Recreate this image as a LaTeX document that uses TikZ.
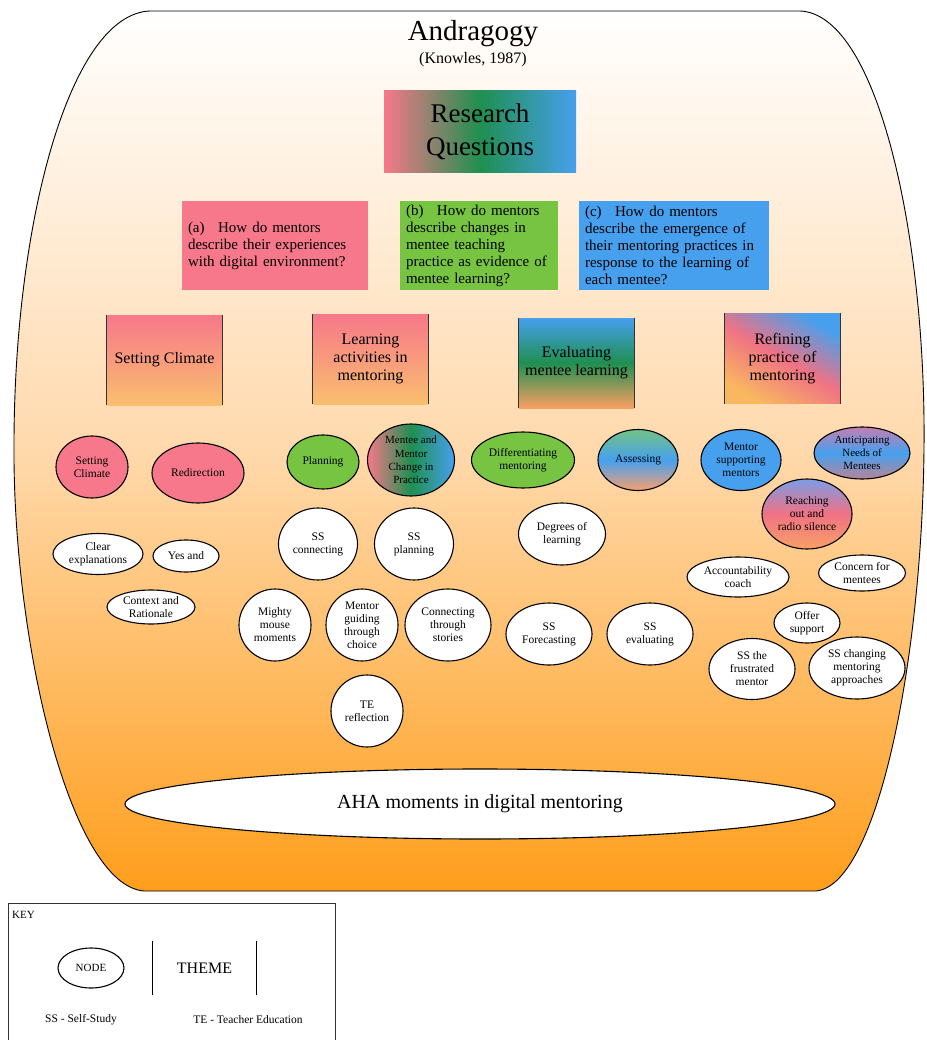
\documentclass[tikz,border=0pt]{standalone}
\usepackage{fontspec}
\setmainfont{Liberation Serif}
\usetikzlibrary{shapes.geometric}
\newcommand\fsz[2]{\fontsize{#1pt}{#2pt}\selectfont}
\definecolor{bkTop}{HTML}{FFFFFF}
\definecolor{bkMid}{HTML}{FFD9AC}
\definecolor{bkBot}{HTML}{FF9E1C}
\definecolor{qpink}{HTML}{F7788A}
\definecolor{qgreen}{HTML}{76C442}
\definecolor{qblue}{HTML}{46A0EE}
\definecolor{dgreen}{HTML}{1F8F50}
\definecolor{thOr}{HTML}{F9BE6E}
\definecolor{evOr}{HTML}{F9A062}
\definecolor{rfOr}{HTML}{F9B860}
\definecolor{rfPk}{HTML}{F07284}
\definecolor{rfBl}{HTML}{46A0EE}
\definecolor{asTop}{HTML}{72C284}
\definecolor{asBot}{HTML}{F6A070}
\definecolor{anTop}{HTML}{C47EB2}
\definecolor{anBot}{HTML}{B88498}
\definecolor{reTop}{HTML}{7C9CE6}
\definecolor{reBot}{HTML}{F8A066}
\definecolor{edge}{HTML}{333333}
\pgfdeclareverticalshading{refine}{100bp}{color(0bp)=(rfOr); color(25bp)=(rfOr); color(50bp)=(rfPk); color(75bp)=(rfBl); color(100bp)=(rfBl)}
\tikzset{
  el/.style 2 args={minimum width=#1, minimum height=#2},
  wn/.style={ellipse, draw=black, line width=1.1pt, fill=white, inner sep=0pt, align=center, font=\fsz{11.5}{13}},
  cn/.style={ellipse, draw=black, line width=1.1pt, inner sep=0pt, align=center, font=\fsz{11.5}{13}},
  qbox/.style={rectangle, inner xsep=6pt, inner ysep=2pt, align=left, minimum height=89, font=\fsz{15}{17}},
  theme/.style={rectangle, minimum width=115, minimum height=90, inner sep=0pt, align=center, font=\fsz{16}{18}},
  themeedge/.style={draw=edge, line width=1.2pt},
}
\begin{document}
\begin{tikzpicture}[x=1pt,y=-1pt]
\useasboundingbox (0,0) rectangle (926,1040);
\fill[white] (0,0) rectangle (926,1040);
% outer andragogy shape
\path[draw=black, line width=0.9pt, top color=bkTop, bottom color=bkBot, middle color=bkMid]
  (150,11) -- (800,11) .. controls (875,14) and (922,220) .. (924,420)
  .. controls (926,640) and (880,885) .. (816,891) -- (144,891)
  .. controls (70,885) and (12,640) .. (14,440)
  .. controls (15,220) and (70,14) .. (150,11) -- cycle;
\node[font=\fsz{29}{32}] (title) at (473,34) {Andragogy};
\node[font=\fsz{16}{18}] (knowles) at (473,60) {(Knowles, 1987)};
% research questions
\node[rectangle, minimum width=192, minimum height=82, inner sep=0pt, align=center, font=\fsz{27}{33},
  left color=qpink, right color=qblue, middle color=dgreen] (rq) at (480,132) {Research\\Questions};
\node[qbox, fill=qpink, text width=174, minimum width=186] (qa) at (275,245.5)
  {(a)\hspace{0.9em}How do mentors\\describe their experiences\\with digital environment?};
\node[qbox, fill=qgreen, text width=146, minimum width=158] (qb) at (479,245.5)
  {(b)\hspace{0.9em}How do mentors\\describe changes in\\mentee teaching\\practice as evidence of\\mentee learning?};
\node[qbox, fill=qblue, text width=178, minimum width=190] (qc) at (674,245.5)
  {(c)\hspace{0.9em}How do mentors\\describe the emergence of\\their mentoring practices in\\response to the learning of\\each mentee?};
% themes
\node[theme, top color=qpink, bottom color=thOr] (t1) at (164.5,360) {Setting Climate};
\node[theme, top color=qpink, bottom color=thOr] (t2) at (370.5,359) {Learning\\activities in\\mentoring};
\node[theme, top color=qblue, bottom color=evOr, middle color=dgreen] (t3) at (576.5,363) {Evaluating\\mentee learning};
\node[theme, shading=refine, shading angle=-30] (t4) at (782.5,358.5) {Refining\\practice of\\mentoring};
\foreach \t in {t1,t2,t3,t4}{
  \draw[themeedge] (\t.north west) -- (\t.south west);
  \draw[themeedge] (\t.north east) -- (\t.south east);
}
% coloured nodes
\node[cn, el={72}{62}, fill=qpink] (sc) at (92,467) {Setting\\Climate};
\node[cn, el={92}{60}, fill=qpink] (redir) at (198,473) {Redirection};
\node[cn, el={72}{54}, fill=qgreen] (plan) at (323,462) {Planning};
\node[cn, el={87}{72}, left color=qpink, right color=qblue, middle color=dgreen, font=\fsz{11}{13.3}] (mmc) at (411,460) {Mentee and\\Mentor\\Change in\\Practice};
\node[cn, el={103}{56}, fill=qgreen] (diff) at (523,460) {Differentiating\\mentoring};
\node[cn, el={80}{61}, top color=asTop, bottom color=asBot, middle color=qblue] (assess) at (638,460) {Assessing};
\node[cn, el={80}{61}, fill=qblue] (msm) at (741,460) {Mentor\\supporting\\mentors};
\node[cn, el={96}{52}, top color=anTop, bottom color=anBot, middle color=qblue, font=\fsz{11}{13}] (antic) at (862,453) {Anticipating\\Needs of\\Mentees};
\node[cn, el={90}{70}, top color=reTop, bottom color=reBot, middle color=rfPk] (reach) at (807,514) {Reaching\\out and\\radio silence};
% white nodes
\node[wn, el={90}{41}] (clear) at (98,554) {Clear\\explanations};
\node[wn, el={66}{32}] (yes) at (186,556) {Yes and};
\node[wn, el={88}{34}] (ctx) at (151,607) {Context and\\Rationale};
\node[wn, el={79}{72}] (ssc) at (318,544) {SS\\connecting};
\node[wn, el={79}{72}] (ssp) at (414,544) {SS\\planning};
\node[wn, el={72}{72}] (mmm) at (275,625) {Mighty\\mouse\\moments};
\node[wn, el={72}{72}] (mgc) at (362,625) {Mentor\\guiding\\through\\choice};
\node[wn, el={86}{72}] (cts) at (448,625) {Connecting\\through\\stories};
\node[wn, el={72}{72}] (ter) at (367,711) {TE\\reflection};
\node[wn, el={87}{62}] (deg) at (562,534) {Degrees of\\learning};
\node[wn, el={86}{62}] (ssf) at (549,634) {SS\\Forecasting};
\node[wn, el={86}{62}] (sse) at (650,634) {SS\\evaluating};
\node[wn, el={102}{40}] (acc) at (738,577) {Accountability\\coach};
\node[wn, el={87}{36}] (conc) at (862,573) {Concern for\\mentees};
\node[wn, el={66}{40}] (offer) at (807,623) {Offer\\support};
\node[wn, el={86}{61}] (ssfm) at (752,669) {SS the\\frustrated\\mentor};
\node[wn, el={96}{62}] (sscm) at (857,668) {SS changing\\mentoring\\approaches};
\node[wn, el={710}{70}, font=\fsz{20}{22}] (aha) at (480,804) {AHA moments in digital mentoring};
% key
\draw[draw=black!80, line width=0.8pt] (8,903) rectangle (335,1060);
\node[anchor=west, inner sep=0pt, font=\fsz{11}{13}] (key) at (12,915) {KEY};
\node[wn, el={66}{40}, font=\fsz{11}{13}] (knode) at (91,968) {NODE};
\node[rectangle, minimum width=103, minimum height=53, inner sep=0pt, font=\fsz{16}{18}] (ktheme) at (204.5,968) {THEME};
\draw[draw=black, line width=1.1pt] (ktheme.north west) -- (ktheme.south west);
\draw[draw=black, line width=1.1pt] (ktheme.north east) -- (ktheme.south east);
\node[font=\fsz{11.5}{13}] (kss) at (81,1020) {SS - Self-Study};
\node[font=\fsz{11.5}{13}] (kte) at (248,1020) {TE - Teacher Education};
\end{tikzpicture}
\end{document}
